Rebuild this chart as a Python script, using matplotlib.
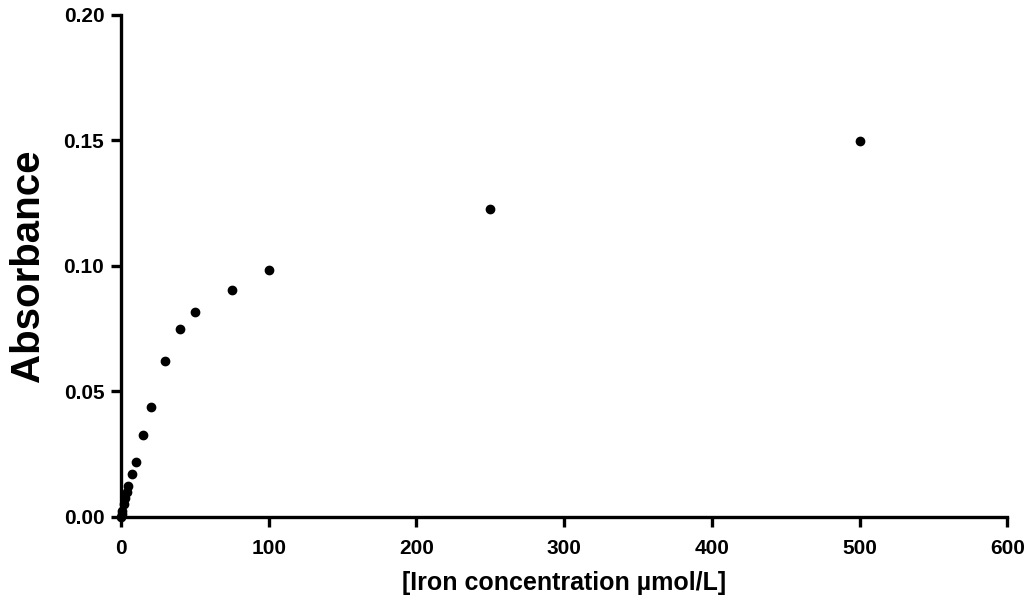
import matplotlib.pyplot as plt

# iron standard curve
conc = [0, 0.5, 1, 2, 3, 4, 5, 7.5, 10, 15, 20, 30, 40, 50, 75, 100, 250, 500]
absorbance = [0.0, 0.0013, 0.0025, 0.005, 0.0075, 0.0100, 0.0125, 0.0171,
              0.0219, 0.0327, 0.0438, 0.0622, 0.0749, 0.0817, 0.0904,
              0.0984, 0.1227, 0.1498]

x_ticks = [0, 100, 200, 300, 400, 500, 600]
y_ticks = [0.00, 0.05, 0.10, 0.15, 0.20]

plt.rcParams['font.family'] = ['Liberation Sans', 'DejaVu Sans']
plt.rcParams['font.weight'] = 'bold'

fig = plt.figure(figsize=(10.36, 6.10), dpi=100)
ax = fig.add_axes([0.1168, 0.1525, 0.8555, 0.8230])

ax.plot(conc, absorbance, 'o', color='black', markersize=6, clip_on=False, zorder=3)

ax.set_xlim(0, 600)
ax.set_ylim(0, 0.20)
ax.set_xticks(x_ticks)
ax.set_yticks(y_ticks)
ax.set_yticklabels(['%.2f' % v for v in y_ticks])

for side in ['top', 'right']:
    ax.spines[side].set_visible(False)
for side in ['left', 'bottom']:
    ax.spines[side].set_linewidth(2.4)

ax.tick_params(width=2.4, length=7, labelsize=15, pad=5)
ax.tick_params(axis='x', pad=9)

ax.set_xlabel('[Iron concentration µmol/L]', fontsize=18, fontweight='bold', labelpad=9)
ax.set_ylabel('Absorbance', fontsize=29, fontweight='bold', labelpad=12)

fig.savefig('out.png', dpi=100)
